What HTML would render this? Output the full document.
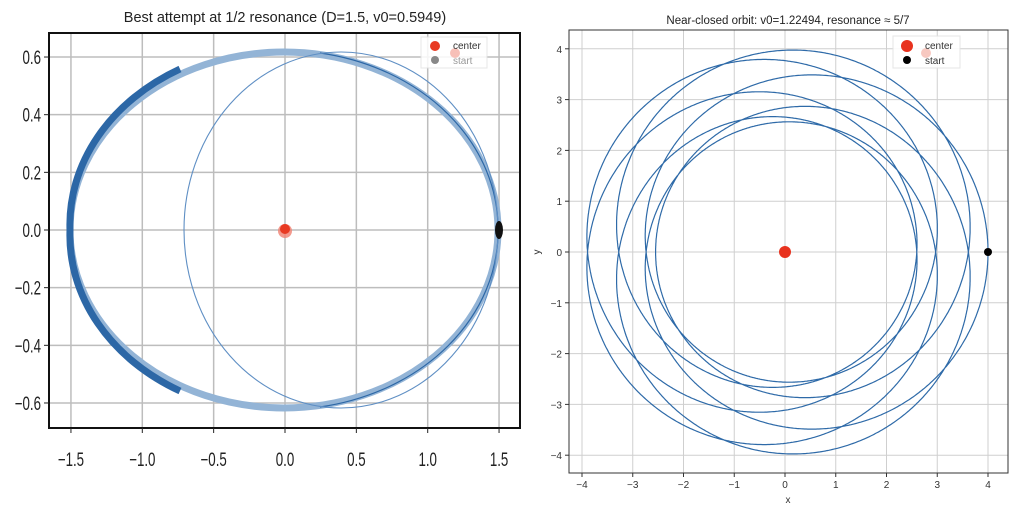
<!DOCTYPE html>
<html><head><meta charset="utf-8"><style>
html,body{margin:0;padding:0;background:#fff}
svg{display:block}
text{font-family:"Liberation Sans","DejaVu Sans",sans-serif}
</style></head><body>
<svg id="s" width="1024" height="517" viewBox="0 0 1024 517" xmlns="http://www.w3.org/2000/svg">
<rect width="1024" height="517" fill="#fff"/>
<!-- LEFT PANEL -->
<text x="285" y="22" font-size="14.5" text-anchor="middle" fill="#222">Best attempt at 1/2 resonance (D=1.5, v0=0.5949)</text>
<g id="lgrid" stroke="#bdbdbd" stroke-width="1.5"></g>
<g fill="none">
<path d="M498,230 A214,178 0 0 1 70,230 A214,178 0 0 1 498,230" stroke="#93b4d6" stroke-width="7"/>
<path d="M180,69 A214,178 0 0 0 70,230 A214,178 0 0 0 180,391" stroke="#2c67a6" stroke-width="7"/>
<path d="M498,230 A214,178 0 0 0 320,53" stroke="#2c67a6" stroke-width="1.2"/>
<path d="M498,230 A214,178 0 0 1 320,407" stroke="#2c67a6" stroke-width="1.2"/>
<ellipse cx="341" cy="230" rx="157" ry="178" stroke="#5f8fc4" stroke-width="1.1"/>
</g>
<circle cx="285" cy="231" r="7" fill="#f08070" opacity="0.8"/>
<circle cx="285" cy="229" r="5" fill="#e83a22"/>
<ellipse cx="499" cy="230" rx="4" ry="9" fill="#111"/>
<rect x="49" y="33" width="471" height="395" fill="none" stroke="#111" stroke-width="2"/>
<g id="lticks" font-size="19" fill="#222"></g>
<rect x="421" y="37" width="66" height="31" fill="#fff" opacity="0.85" stroke="#e3e3e3"/>
<circle cx="435" cy="46" r="5" fill="#e83a22"/>
<circle cx="455" cy="53" r="5" fill="#f7c0b8"/>
<text x="453" y="49" font-size="10" fill="#333">center</text>
<circle cx="435" cy="60" r="4" fill="#888"/>
<text x="453" y="64" font-size="10" fill="#999">start</text>

<!-- RIGHT PANEL -->
<text x="788" y="24" font-size="11.5" text-anchor="middle" fill="#222">Near-closed orbit: v0=1.22494, resonance ≈ 5/7</text>
<g id="rgrid" stroke="#cfcfcf" stroke-width="1"></g>
<path id="rose" fill="none" stroke="#2e6aa8" stroke-width="1.2"/>
<circle cx="785" cy="252" r="6" fill="#e8321e"/>
<circle cx="988" cy="252" r="4" fill="#000"/>
<rect x="569" y="30" width="439" height="443" fill="none" stroke="#333" stroke-width="1"/>
<g id="rticks" font-size="10" fill="#333"></g>
<text x="788" y="503" font-size="10" text-anchor="middle" fill="#333">x</text>
<text x="540" y="252" font-size="10" text-anchor="middle" fill="#333" transform="rotate(-90 540 252)">y</text>
<rect x="893" y="36" width="67" height="32" fill="#fff" opacity="0.9" stroke="#e3e3e3"/>
<circle cx="907" cy="46" r="6" fill="#e8321e"/>
<circle cx="926" cy="53" r="5" fill="#f7c8c0"/>
<text x="925" y="49" font-size="10" fill="#333">center</text>
<circle cx="907" cy="60" r="4" fill="#000"/>
<text x="925" y="64" font-size="10" fill="#333">start</text>
</svg>
<script>
var NS="http://www.w3.org/2000/svg";
function el(p,t,a,txt){var e=document.createElementNS(NS,t);for(var k in a)e.setAttribute(k,a[k]);if(txt!=null)e.textContent=txt;document.getElementById(p).appendChild(e);return e;}
var lx=function(v){return 285+v*142.7}, ly=function(v){return 230-v*288.3};
[-1.5,-1,-0.5,0,0.5,1,1.5].forEach(function(v){var x=lx(v);el("lgrid","line",{x1:x,x2:x,y1:33,y2:428});
 el("lticks","text",{x:0,y:0,"text-anchor":"middle",transform:"translate("+x+",466) scale(0.7,1)"},(v<0?"\u2212":"")+Math.abs(v).toFixed(1));
 el("lticks","line",{x1:x,x2:x,y1:428,y2:433,stroke:"#222"});});
[-0.6,-0.4,-0.2,0,0.2,0.4,0.6].forEach(function(v){var y=ly(v);el("lgrid","line",{x1:49,x2:520,y1:y,y2:y});
 el("lticks","text",{x:0,y:0,"text-anchor":"end",transform:"translate(41,"+(y+7)+") scale(0.7,1)"},(v<0?"\u2212":"")+Math.abs(v).toFixed(1));
 el("lticks","line",{x1:44,x2:49,y1:y,y2:y,stroke:"#222"});});
var rx=function(v){return 785+v*50.75}, ry=function(v){return 252-v*50.8};
for(var v=-4;v<=4;v++){var x=rx(v),y=ry(v);
 el("rgrid","line",{x1:x,x2:x,y1:30,y2:473});el("rgrid","line",{x1:569,x2:1008,y1:y,y2:y});
 el("rticks","text",{x:x,y:488,"text-anchor":"middle"},(v<0?"\u2212":"")+Math.abs(v));
 el("rticks","text",{x:562,y:y+4,"text-anchor":"end"},(v<0?"\u2212":"")+Math.abs(v));
 el("rticks","line",{x1:x,x2:x,y1:473,y2:477,stroke:"#333"});el("rticks","line",{x1:565,x2:569,y1:y,y2:y,stroke:"#333"});}
var A=(1/2.55+1/4)/2,B=(1/4-1/2.55)/2;
var d="",N=5000;
for(var i=0;i<=N;i++){var th=i/N*14*Math.PI;var r=1/(A+B*Math.cos(th*5/7));
 var X=rx(r*Math.cos(th)),Y=ry(r*Math.sin(th));d+=(i?"L":"M")+X.toFixed(1)+","+Y.toFixed(1);}
document.getElementById("rose").setAttribute("d",d);
</script>
</body></html>
